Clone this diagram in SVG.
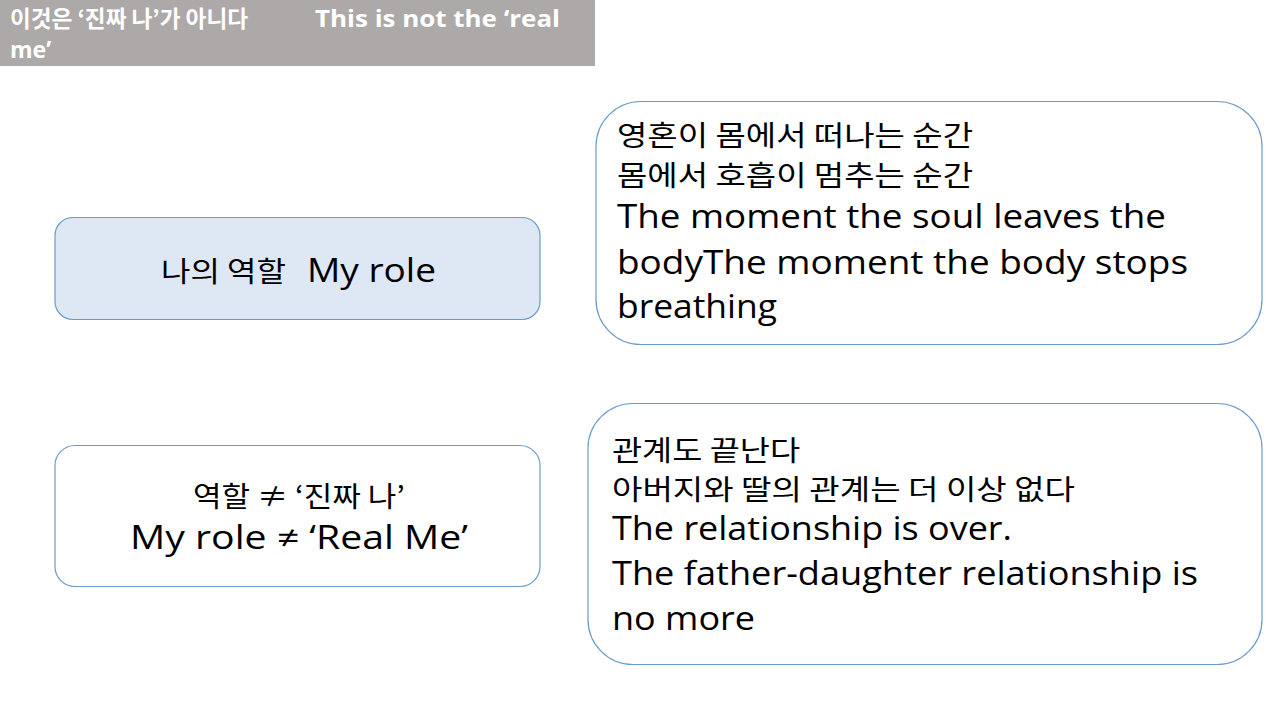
<svg xmlns="http://www.w3.org/2000/svg" width="1280" height="720" viewBox="0 0 1280 720">
<style>
.t{font-family:"Open Sans","Noto Sans CJK KR",sans-serif;fill:#000}
.k{font-family:"Noto Sans CJK KR","Noto Sans",sans-serif;fill:#000}
.box{stroke:#6A9BCB;stroke-width:1.2}
.ko{font-size:28px}
.en{font-size:32px}
.hd{font-size:23px;font-weight:bold;fill:#fff}
</style>
<rect width="1280" height="720" fill="#fff"/>
<g id="title">
<rect x="0" y="0" width="595" height="66" fill="#ADA9A8"/>
<text class="k hd" x="10" y="27" textLength="238" lengthAdjust="spacingAndGlyphs">이것은 ‘진짜 나’가 아니다</text>
<text class="t hd" x="315" y="27" textLength="245" lengthAdjust="spacingAndGlyphs">This is not the ‘real</text>
<text class="t hd" x="10" y="58">me’</text>
</g>
<g id="role">
<rect class="box" x="55" y="217.5" width="485" height="102" rx="18" fill="#DEE8F4"/>
<text class="k" x="161" y="282" font-size="28" textLength="125" lengthAdjust="spacingAndGlyphs">나의 역할</text>
<text class="t" x="307" y="282" font-size="32" textLength="129" lengthAdjust="spacingAndGlyphs">My role</text>
</g>
<g id="moment">
<rect class="box" x="596" y="101.5" width="666" height="243" rx="45" fill="#fff"/>
<text class="k ko" x="617" y="146" textLength="356" lengthAdjust="spacingAndGlyphs">영혼이 몸에서 떠나는 순간</text>
<text class="k ko" x="617" y="186" textLength="356" lengthAdjust="spacingAndGlyphs">몸에서 호흡이 멈추는 순간</text>
<text class="t en" x="617" y="228" textLength="549" lengthAdjust="spacingAndGlyphs">The moment the soul leaves the</text>
<text class="t en" x="617" y="274" textLength="571" lengthAdjust="spacingAndGlyphs">bodyThe moment the body stops</text>
<text class="t en" x="617" y="318" textLength="160" lengthAdjust="spacingAndGlyphs">breathing</text>
</g>
<g id="notreal">
<rect class="box" x="55" y="445.5" width="485" height="141" rx="20" fill="#fff"/>
<text class="k ko" x="193" y="507" textLength="212" lengthAdjust="spacingAndGlyphs">역할 ≠ ‘진짜 나’</text>
<text class="t en" x="130" y="549" textLength="338" lengthAdjust="spacingAndGlyphs">My role ≠ ‘Real Me’</text>
</g>
<g id="relation">
<rect class="box" x="588" y="403.5" width="674" height="261" rx="45" fill="#fff"/>
<text class="k ko" x="612" y="461" textLength="188" lengthAdjust="spacingAndGlyphs">관계도 끝난다</text>
<text class="k ko" x="612" y="500" textLength="463" lengthAdjust="spacingAndGlyphs">아버지와 딸의 관계는 더 이상 없다</text>
<text class="t en" x="612" y="540" textLength="400" lengthAdjust="spacingAndGlyphs">The relationship is over.</text>
<text class="t en" x="612" y="585" textLength="586" lengthAdjust="spacingAndGlyphs">The father-daughter relationship is</text>
<text class="t en" x="612" y="630" textLength="143" lengthAdjust="spacingAndGlyphs">no more</text>
</g>
<g id="connectors"></g>
</svg>
